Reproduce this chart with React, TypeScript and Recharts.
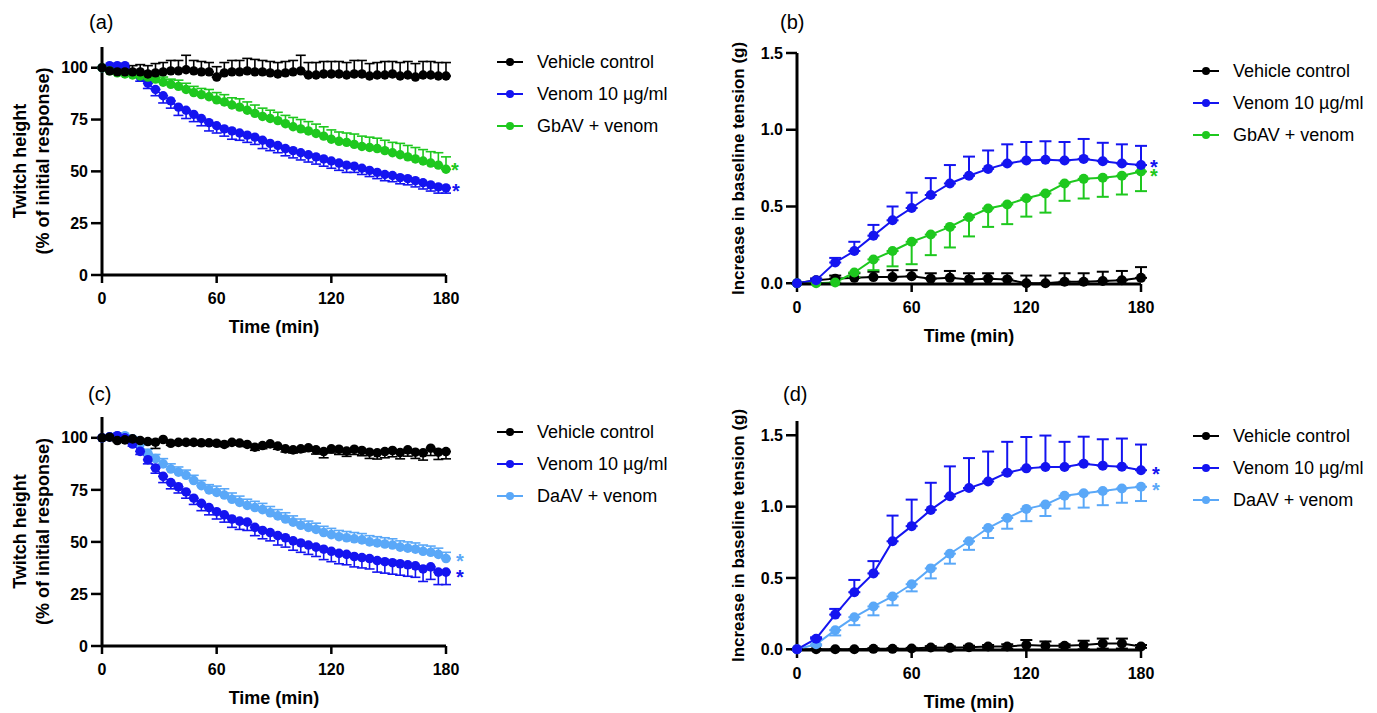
import React from 'react';
import { LineChart, Line, XAxis, YAxis, ErrorBar, Legend, LabelList } from 'recharts';

const FONT = '"Liberation Sans", Arial, Helvetica, sans-serif';
const BLACK = '#000000';
const BLUE = '#1414f0';
const GREEN = '#1ec81e';
const LIGHTBLUE = '#5aa8f8';

// ---------- time axes ----------
const timesA = [0, 4, 8, 12, 16, 20, 24, 28, 32, 36, 40, 44, 48, 52, 56, 60, 64, 68, 72, 76, 80, 84, 88, 92, 96, 100, 104, 108, 112, 116, 120, 124, 128, 132, 136, 140, 144, 148, 152, 156, 160, 164, 168, 172, 176, 180];
const timesB = [0, 10, 20, 30, 40, 50, 60, 70, 80, 90, 100, 110, 120, 130, 140, 150, 160, 170, 180];
const xTicks = [0, 60, 120, 180];
const twitchTicks = [0, 25, 50, 75, 100];
const tensionTicks = [0, 0.5, 1.0, 1.5];

// ---------- panel (a): twitch height ----------
const vehA = [100, 98.5, 98, 98, 98, 98, 97, 97.5, 98, 98.5, 98.5, 99, 98.5, 98, 98, 95.5, 97.5, 98, 98, 98.5, 98, 98, 97.5, 97, 97.5, 98, 98.5, 96.5, 96.5, 97, 97, 97, 96.5, 97, 97, 96, 96.5, 96.5, 97, 96, 96.5, 95.5, 96.5, 96.5, 96, 96];
const vehAErr = [0, 1.5, 2, 2.5, 3, 3.5, 4, 4.5, 4.5, 5, 5, 7, 5, 5, 4.5, 5, 5, 5.5, 5.5, 6, 6, 5.5, 5.5, 5.5, 5.5, 5.5, 7.5, 6, 6, 6, 6, 6, 6, 6.5, 6.5, 6, 6, 6.5, 6, 6.5, 6.5, 6.5, 6.5, 6.5, 6.5, 6.5];
const venA = [100, 101, 101, 101, 97.5, 95.5, 92.5, 89.5, 86.5, 84, 81, 79.5, 77.5, 75.5, 73.5, 72, 70.5, 69.5, 68.5, 67.5, 66.5, 65, 63.5, 62.5, 61, 60, 59, 58, 57, 56, 55, 54, 53, 52.5, 51.5, 50.5, 49.5, 48.5, 48, 47, 46.5, 45.5, 44.5, 43.5, 42.5, 42];
const venAErr = [0, 0.5, 0.5, 1, 1.5, 2, 2.5, 3, 3.5, 3.5, 4, 4, 3.5, 3.5, 4, 3.5, 3.5, 4, 3.5, 3.5, 3.5, 4, 3.5, 3.5, 3.5, 3.5, 3.5, 3.5, 3.5, 3.5, 3.5, 3.5, 3.5, 3, 3, 3, 3, 3, 3, 3, 3, 3, 3, 3, 3, 2.5];
const gbA = [100, 98.5, 97.5, 97, 96.5, 96, 95.5, 94.5, 93, 92, 91, 89.5, 88, 87, 86, 84.5, 83.5, 82, 81, 79.5, 78, 76.5, 75.5, 74.5, 73, 71.5, 70.5, 69.5, 68.3, 67, 65.5, 64.5, 64, 63, 62, 61.5, 61, 60, 59, 58, 57, 56, 55, 54, 53, 51];
const gbAErr = [0, 0.5, 1, 1, 1.5, 1.5, 2, 2, 2.5, 2.5, 3, 3, 3, 3, 3.5, 3.5, 3.5, 3.5, 4, 4, 4, 4, 4, 4, 4, 4.5, 4.5, 4.5, 4.5, 4.5, 4.5, 4.5, 4.5, 5, 5, 5, 5, 5, 5, 5.5, 5.5, 5.5, 5.5, 5.5, 6, 6];

// ---------- panel (b): baseline tension ----------
const vehB = [0, 0.02, 0.03, 0.035, 0.04, 0.04, 0.045, 0.03, 0.035, 0.025, 0.03, 0.025, 0, 0, 0.01, 0.01, 0.015, 0.02, 0.035];
const vehBErr = [0, 0.01, 0.02, 0.03, 0.035, 0.045, 0.04, 0.035, 0.045, 0.04, 0.035, 0.04, 0.05, 0.05, 0.055, 0.055, 0.06, 0.06, 0.07];
const venB = [0, 0.02, 0.135, 0.21, 0.31, 0.41, 0.49, 0.575, 0.65, 0.7, 0.745, 0.78, 0.8, 0.805, 0.8, 0.81, 0.795, 0.78, 0.77];
const venBErr = [0, 0.01, 0.03, 0.06, 0.07, 0.09, 0.1, 0.11, 0.12, 0.125, 0.12, 0.125, 0.12, 0.12, 0.12, 0.13, 0.12, 0.125, 0.125];
const gbB = [0, 0, 0.005, 0.07, 0.155, 0.21, 0.27, 0.317, 0.367, 0.43, 0.487, 0.513, 0.554, 0.585, 0.65, 0.68, 0.687, 0.7, 0.728];
const gbBErr = [0, 0.005, 0.01, 0.03, 0.07, 0.1, 0.146, 0.134, 0.134, 0.125, 0.12, 0.128, 0.12, 0.125, 0.113, 0.128, 0.124, 0.122, 0.128];

// ---------- panel (c): twitch height ----------
const vehC = [100, 100.3, 98.7, 99, 99.5, 98.7, 98.2, 97.9, 99.2, 97.4, 97.8, 97.8, 97.8, 97.6, 97.6, 97.4, 96.8, 97.8, 97.5, 96.8, 95.5, 96.3, 97.1, 96, 94.7, 94.2, 94.7, 95.2, 94.2, 93.4, 94.7, 94.5, 93.6, 94.5, 93.9, 93.1, 92.8, 93.4, 93.9, 92.9, 94.2, 93.1, 92.8, 95, 93.1, 93.4];
const vehCErr = [0, 0.5, 0.5, 0.5, 0.5, 0.5, 1, 3, 1, 1, 1, 1, 1, 1, 1, 1, 1, 1, 1, 1, 1.5, 1.5, 1.5, 1.5, 1.5, 1.5, 1.5, 1.5, 2, 3, 2, 2.5, 2.5, 2.5, 2.5, 3, 3, 3, 3, 3, 3, 3, 3.5, 3.5, 3.5, 3.5];
const venC = [100, 100.5, 101, 100, 97, 93.5, 89.5, 85.5, 81.5, 78.5, 76.5, 74, 71, 68.5, 66.5, 64.5, 63, 61, 60, 59.5, 57, 55.5, 54.5, 53, 52, 50.5, 49.5, 48.5, 47.5, 46.5, 45.5, 44.5, 44, 43, 42.5, 42, 41, 40.5, 40, 39.5, 39, 38.5, 37, 38, 35.5, 35.5];
const venCErr = [0, 0.5, 0.5, 0.5, 1, 1.5, 2, 2.5, 3, 3, 3, 3, 3, 3.5, 3.5, 3.5, 3.5, 4, 4, 4, 4, 4, 4, 4.5, 4.5, 4.5, 4.5, 4.5, 4.5, 5, 5, 5, 5, 5, 5, 5, 5.5, 5.5, 5.5, 5.5, 5.5, 5.5, 6, 6, 6, 6];
const daC = [100, 100.5, 101, 101, 99.5, 97, 92.5, 90, 87.5, 85, 83.5, 82, 79.5, 77, 75, 73.8, 72.5, 70.5, 69, 67.5, 66.5, 65.5, 64, 62.5, 61, 59.5, 58, 57, 56, 54.5, 53.5, 52.5, 52, 51.5, 51, 50, 49.5, 49, 48.5, 47.5, 47, 46.5, 45.5, 45, 44, 42];
const daCErr = [0, 0.5, 0.5, 0.5, 1, 1.5, 2, 2, 2.5, 2.5, 2.5, 2.5, 2.5, 2.5, 2.5, 3, 3, 3, 3, 3, 3, 3, 3, 3, 3, 3, 3, 3, 3, 3, 3, 3, 3, 3, 3, 3, 3, 3, 3, 3, 3, 3, 3, 3, 3, 3];

// ---------- panel (d): baseline tension ----------
const vehD = [0, 0, 0, 0, 0.003, 0.003, 0.005, 0.012, 0.01, 0.015, 0.02, 0.02, 0.03, 0.025, 0.025, 0.03, 0.04, 0.04, 0.02];
const vehDErr = [0, 0, 0, 0, 0.005, 0.005, 0.005, 0.01, 0.01, 0.01, 0.01, 0.015, 0.035, 0.03, 0.01, 0.03, 0.035, 0.035, 0.01];
const venD = [0, 0.074, 0.243, 0.4, 0.532, 0.757, 0.863, 0.977, 1.072, 1.13, 1.176, 1.238, 1.268, 1.278, 1.278, 1.3, 1.287, 1.28, 1.255];
const venDErr = [0, 0.01, 0.04, 0.086, 0.086, 0.18, 0.186, 0.19, 0.21, 0.21, 0.21, 0.216, 0.22, 0.22, 0.176, 0.19, 0.185, 0.197, 0.18];
const daD = [0, 0.035, 0.134, 0.225, 0.3, 0.37, 0.456, 0.567, 0.67, 0.757, 0.85, 0.92, 0.984, 1.014, 1.076, 1.093, 1.11, 1.127, 1.139];
const daDErr = [0, 0.01, 0.037, 0.056, 0.062, 0.062, 0.05, 0.07, 0.07, 0.06, 0.07, 0.075, 0.086, 0.08, 0.09, 0.1, 0.1, 0.1, 0.1];

type Dir = 'up' | 'down' | 'both';
interface SeriesDef {
  key: string;
  name: string;
  color: string;
  values: number[];
  errs: number[];
  dir: Dir;
  star?: { dx: number; dy: number };
}

function buildRows(times: number[], series: SeriesDef[]) {
  return times.map((t, i) => {
    const row: Record<string, any> = { t };
    series.forEach((s) => {
      row[s.key] = s.values[i];
      const e = s.errs[i];
      row[s.key + 'Err'] = s.dir === 'up' ? [0, e] : s.dir === 'down' ? [e, 0] : [e, e];
    });
    return row;
  });
}

interface PanelProps {
  left: number;
  top: number;
  width: number;
  height: number;
  marginTop: number;
  marginRight: number;
  yAxisWidth: number;
  xAxisHeight: number;
  times: number[];
  yDomain: [number, number];
  yTicks: number[];
  fmt?: (v: number) => string;
  yTitle: string[];
  yTitleX: number[];
  yTitleSize: number;
  series: SeriesDef[];
  legendOrder: SeriesDef[];
  legendLeft: number;
  legendTop: number;
  dotR: number;
  lineW: number;
  errW: number;
  capW: number;
}

const LegendBox = ({ items }: { items: SeriesDef[] }) => (
  <div style={{ fontFamily: FONT, fontSize: 18, color: '#000' }}>
    {items.map((s) => (
      <div key={s.key} style={{ display: 'flex', alignItems: 'center', height: 32 }}>
        <svg width={26} height={10} style={{ marginRight: 14, flex: 'none' }}>
          <line x1={0} y1={5} x2={26} y2={5} stroke={s.color} strokeWidth={2} />
          <circle cx={13} cy={5} r={4} fill={s.color} />
        </svg>
        <span style={{ whiteSpace: 'nowrap', lineHeight: '32px' }}>{s.name}</span>
      </div>
    ))}
  </div>
);

function Panel(p: PanelProps) {
  const rows = buildRows(p.times, p.series);
  const last = p.times.length - 1;
  const plotBottom = p.height - p.xAxisHeight;
  const yMid = (p.marginTop + plotBottom) / 2;
  const xMid = (p.yAxisWidth + (p.width - p.marginRight)) / 2;
  const tickStyle = { fill: '#000', fontSize: 16, fontWeight: 700, fontFamily: FONT };
  return (
    <div style={{ position: 'absolute', left: p.left, top: p.top }}>
      <LineChart
        width={p.width}
        height={p.height}
        data={rows}
        margin={{ top: p.marginTop, right: p.marginRight, left: 0, bottom: 0 }}
      >
        <XAxis
          dataKey="t"
          type="number"
          domain={[0, 180]}
          ticks={xTicks}
          interval={0}
          height={p.xAxisHeight}
          axisLine={{ stroke: '#000', strokeWidth: 3 }}
          tickLine={{ stroke: '#000', strokeWidth: 2.5 }}
          tickSize={8}
          tickMargin={10}
          tick={tickStyle}
          label={() => (
            <text x={xMid} y={plotBottom + 58} textAnchor="middle" fontFamily={FONT} fontSize={18} fontWeight={700} fill="#000">
              Time (min)
            </text>
          )}
        />
        <YAxis
          type="number"
          domain={p.yDomain}
          ticks={p.yTicks}
          interval={0}
          width={p.yAxisWidth}
          axisLine={{ stroke: '#000', strokeWidth: 3 }}
          tickLine={{ stroke: '#000', strokeWidth: 2.5 }}
          tickSize={11}
          tickMargin={3}
          tick={tickStyle}
          tickFormatter={p.fmt}
          label={() => (
            <g>
              {p.yTitle.map((line, i) => (
                <text
                  key={i}
                  transform={`translate(${p.yTitleX[i]}, ${yMid}) rotate(-90)`}
                  textAnchor="middle"
                  dominantBaseline="central"
                  fontFamily={FONT}
                  fontSize={p.yTitleSize}
                  fontWeight={700}
                  fill="#000"
                >
                  {line}
                </text>
              ))}
            </g>
          )}
        />
        {p.series.map((s) => (
          <Line
            key={s.key}
            dataKey={s.key}
            name={s.name}
            type="linear"
            stroke={s.color}
            strokeWidth={p.lineW}
            dot={{ r: p.dotR, fill: s.color, stroke: s.color, strokeWidth: 0 }}
            activeDot={false}
            isAnimationActive={false}
          >
            <ErrorBar
              dataKey={s.key + 'Err'}
              width={p.capW}
              strokeWidth={p.errW}
              stroke={s.color}
              direction="y"
              isAnimationActive={false}
            />
            {s.star && (
              <LabelList
                dataKey={s.key}
                content={(lp: any) => {
                  if (lp.index !== last) return null;
                  const x = lp.x ?? lp.viewBox?.x;
                  const y = lp.y ?? lp.viewBox?.y;
                  if (x == null || y == null) return null;
                  return (
                    <text
                      x={x + s.star!.dx}
                      y={y + s.star!.dy + 10.5}
                      textAnchor="middle"
                      fontFamily={FONT}
                      fontSize={20}
                      fontWeight={700}
                      fill={s.color}
                    >
                      *
                    </text>
                  );
                }}
              />
            )}
          </Line>
        ))}
        <Legend
          layout="vertical"
          align="center"
          verticalAlign="middle"
          wrapperStyle={{ left: p.legendLeft, top: p.legendTop, width: 230, height: 100 }}
          content={() => <LegendBox items={p.legendOrder} />}
        />
      </LineChart>
    </div>
  );
}

const fmt1 = (v: number) => v.toFixed(1);

// series definitions
const sVehA: SeriesDef = { key: 'veh', name: 'Vehicle control', color: BLACK, values: vehA, errs: vehAErr, dir: 'up' };
const sVenA: SeriesDef = { key: 'ven', name: 'Venom 10 \u00b5g/ml', color: BLUE, values: venA, errs: venAErr, dir: 'down', star: { dx: 10, dy: 0 } };
const sGbA: SeriesDef = { key: 'gb', name: 'GbAV + venom', color: GREEN, values: gbA, errs: gbAErr, dir: 'up', star: { dx: 9, dy: -3 } };

const sVehB: SeriesDef = { key: 'veh', name: 'Vehicle control', color: BLACK, values: vehB, errs: vehBErr, dir: 'up' };
const sVenB: SeriesDef = { key: 'ven', name: 'Venom 10 \u00b5g/ml', color: BLUE, values: venB, errs: venBErr, dir: 'up', star: { dx: 13, dy: -2 } };
const sGbB: SeriesDef = { key: 'gb', name: 'GbAV + venom', color: GREEN, values: gbB, errs: gbBErr, dir: 'down', star: { dx: 13, dy: 1 } };

const sVehC: SeriesDef = { key: 'veh', name: 'Vehicle control', color: BLACK, values: vehC, errs: vehCErr, dir: 'down' };
const sVenC: SeriesDef = { key: 'ven', name: 'Venom 10 \u00b5g/ml', color: BLUE, values: venC, errs: venCErr, dir: 'down', star: { dx: 14, dy: 1 } };
const sDaC: SeriesDef = { key: 'da', name: 'DaAV + venom', color: LIGHTBLUE, values: daC, errs: daCErr, dir: 'up', star: { dx: 14, dy: -1.5 } };

const sVehD: SeriesDef = { key: 'veh', name: 'Vehicle control', color: BLACK, values: vehD, errs: vehDErr, dir: 'both' };
const sVenD: SeriesDef = { key: 'ven', name: 'Venom 10 \u00b5g/ml', color: BLUE, values: venD, errs: venDErr, dir: 'up', star: { dx: 15, dy: 0 } };
const sDaD: SeriesDef = { key: 'da', name: 'DaAV + venom', color: LIGHTBLUE, values: daD, errs: daDErr, dir: 'down', star: { dx: 15, dy: 0 } };

const letterStyle = (left: number, top: number): React.CSSProperties => ({
  position: 'absolute',
  left,
  top,
  fontFamily: FONT,
  fontSize: 20,
  lineHeight: '20px',
  color: '#000',
});

export default function App() {
  return (
    <div style={{ position: 'absolute', left: 0, top: 0, width: 1377, height: 713, background: '#fff', overflow: 'hidden' }}>
      <Panel
        left={0} top={0} width={690} height={345}
        marginTop={47} marginRight={244} yAxisWidth={102} xAxisHeight={70}
        times={timesA} yDomain={[0, 110]} yTicks={twitchTicks}
        yTitle={['Twitch height', '(% of initial response)']} yTitleX={[20, 43]} yTitleSize={18}
        series={[sVenA, sGbA, sVehA]} legendOrder={[sVehA, sVenA, sGbA]}
        legendLeft={497} legendTop={46}
        dotR={4.7} lineW={1.5} errW={1.6} capW={5}
      />
      <Panel
        left={690} top={0} width={687} height={350}
        marginTop={53} marginRight={236} yAxisWidth={107} xAxisHeight={66}
        times={timesB} yDomain={[0, 1.5]} yTicks={tensionTicks} fmt={fmt1}
        yTitle={['Increase in baseline tension (g)']} yTitleX={[48]} yTitleSize={17}
        series={[sVehB, sGbB, sVenB]} legendOrder={[sVehB, sVenB, sGbB]}
        legendLeft={503} legendTop={55}
        dotR={5} lineW={2} errW={2} capW={6}
      />
      <Panel
        left={0} top={360} width={690} height={353}
        marginTop={57} marginRight={244} yAxisWidth={102} xAxisHeight={67}
        times={timesA} yDomain={[0, 110]} yTicks={twitchTicks}
        yTitle={['Twitch height', '(% of initial response)']} yTitleX={[20, 43]} yTitleSize={18}
        series={[sDaC, sVenC, sVehC]} legendOrder={[sVehC, sVenC, sDaC]}
        legendLeft={497} legendTop={56}
        dotR={4.8} lineW={1.5} errW={1.6} capW={5}
      />
      <Panel
        left={690} top={360} width={687} height={353}
        marginTop={61} marginRight={236} yAxisWidth={107} xAxisHeight={63}
        times={timesB} yDomain={[0, 1.6]} yTicks={tensionTicks} fmt={fmt1}
        yTitle={['Increase in baseline tension (g)']} yTitleX={[48]} yTitleSize={17}
        series={[sVehD, sDaD, sVenD]} legendOrder={[sVehD, sVenD, sDaD]}
        legendLeft={503} legendTop={60}
        dotR={5} lineW={2} errW={2} capW={6}
      />
      <div style={letterStyle(89, 12)}>(a)</div>
      <div style={letterStyle(780, 12)}>(b)</div>
      <div style={letterStyle(88, 384)}>(c)</div>
      <div style={letterStyle(783, 384)}>(d)</div>
    </div>
  );
}
